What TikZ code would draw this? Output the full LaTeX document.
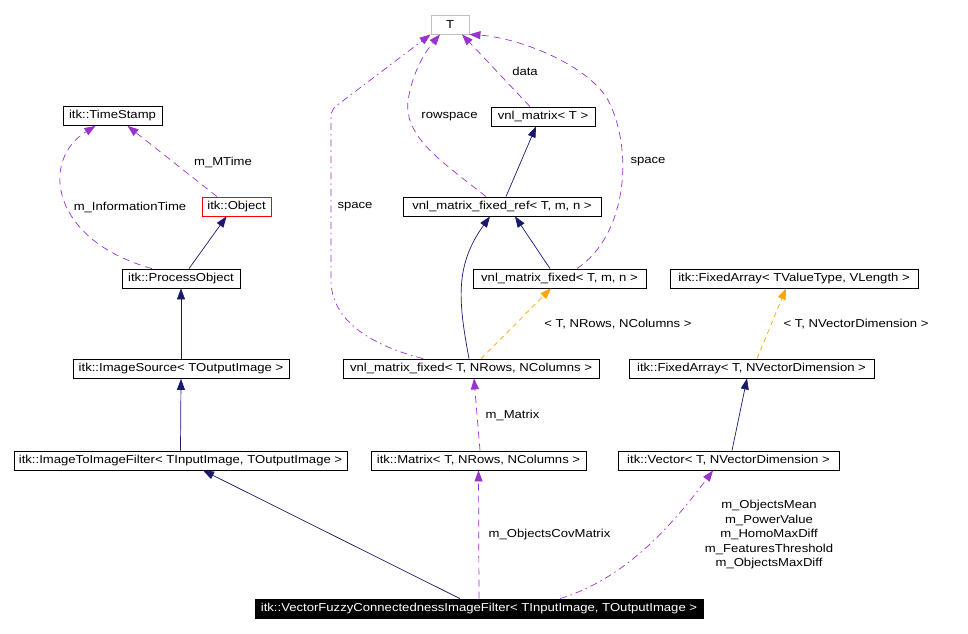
\documentclass[tikz,border=0pt]{standalone}
\usepackage{fontspec}
\setmainfont{Liberation Sans}[FakeStretch=1.14]
\usetikzlibrary{arrows.meta}
\definecolor{navy}{HTML}{191970}
\definecolor{mpurple}{HTML}{9A32CD}
\definecolor{morange}{HTML}{FFA500}
\begin{document}
\begin{tikzpicture}[x=1pt,y=-1pt,
  every node/.style={font=\fontsize{11.5}{14.5}\selectfont, inner sep=0pt},
  cls/.style={draw=black, line width=0.8pt, minimum height=19pt, fill=white},
  tip/.style={-{Triangle[length=11pt,width=8pt]}},
  inh/.style={tip, draw=navy, line width=0.7pt},
  mem/.style={tip, draw=mpurple, line width=0.7pt, dash pattern=on 7pt off 5pt},
  memdd/.style={tip, draw=mpurple, line width=0.7pt, dash pattern=on 7pt off 4pt on 1.5pt off 4pt},
  tmpl/.style={tip, draw=morange, line width=0.7pt, dash pattern=on 5pt off 4pt},
  lbl/.style={align=center}]
\useasboundingbox (0,0) rectangle (968,633);
\fill[white] (0,0) rectangle (968,633);

% nodes
\node[cls, draw=gray!50, minimum width=38pt] (t) at (450,24.5) {T};
\node[cls, minimum width=99pt] (ts) at (112.5,116) {itk::TimeStamp};
\node[cls, draw=red, minimum width=69pt] (obj) at (236.5,206.5) {itk::Object};
\node[cls, minimum width=118pt] (po) at (181,278.5) {itk::ProcessObject};
\node[cls, minimum width=216pt] (is) at (181,369) {itk::ImageSource< TOutputImage >};
\node[cls, minimum width=333pt] (itif) at (180.5,460.5) {itk::ImageToImageFilter< TInputImage, TOutputImage >};
\node[cls, minimum width=104pt] (vm) at (543,116.5) {vnl\_matrix< T >};
\node[cls, minimum width=198pt] (vfref) at (502,206.5) {vnl\_matrix\_fixed\_ref< T, m, n >};
\node[cls, minimum width=173pt] (vfmn) at (559.5,278.5) {vnl\_matrix\_fixed< T, m, n >};
\node[cls, minimum width=256pt] (vfnr) at (471,368.5) {vnl\_matrix\_fixed< T, NRows, NColumns >};
\node[cls, minimum width=215pt] (mat) at (478.5,460.5) {itk::Matrix< T, NRows, NColumns >};
\node[cls, minimum width=248pt] (fa1) at (794,278.5) {itk::FixedArray< TValueType, VLength >};
\node[cls, minimum width=245pt] (fa2) at (751.5,368.5) {itk::FixedArray< T, NVectorDimension >};
\node[cls, minimum width=221pt] (vec) at (728.5,460.5) {itk::Vector< T, NVectorDimension >};
\node[cls, fill=black, text=white, minimum width=448pt] (main) at (479,608.5) {itk::VectorFuzzyConnectednessImageFilter< TInputImage, TOutputImage >};

% left part
\draw[mem] ([xshift=-29pt]po.north) .. controls (50,240) and (40,160) .. ([xshift=-17pt]ts.south);
\draw[mem] ([xshift=-19.5pt]obj.north) -- ([xshift=15pt]ts.south);
\draw[inh] ([xshift=8pt]po.north) -- ([xshift=-10pt]obj.south);
\draw[inh] (is.north) -- (po.south);
\draw[inh] (itif.north) -- (is.south);
\draw[inh] ([xshift=-19pt]main.north) -- ([xshift=22.5pt]itif.south);

% middle
\draw[mem] (main.north) -- (mat.south);
\draw[memdd] ([xshift=81pt]main.north) .. controls (620,580) and (665,535) .. ([xshift=-15.5pt]vec.south);
\draw[mem] ([xshift=1.5pt]mat.north) -- ([xshift=3pt]vfnr.south);
\draw[tmpl] ([xshift=10pt]vfnr.north) -- ([xshift=-8.5pt]vfmn.south);
\draw[inh] ([xshift=-2pt]vfnr.north) .. controls (458,300) and (455,265) .. ([xshift=-12pt]vfref.south);
\draw[memdd] ([xshift=-48pt]vfnr.north) .. controls (370,345) and (331,320) .. (331,280) -- (331,118)
   .. controls (331,110) and (334,107) .. (340,103) -- (t.south west);
\draw[inh] ([xshift=-9.5pt]vfmn.north) -- ([xshift=13pt]vfref.south);
\draw[mem] ([xshift=17.5pt]vfmn.north) .. controls (627,235) and (634,150) .. (608,100)
   .. controls (588,65) and (520,38) .. (t.south east);
\draw[inh] ([xshift=4pt]vfref.north) -- ([xshift=-7pt]vm.south);
\draw[mem] ([xshift=-16pt]vfref.north) .. controls (440,160) and (400,135) .. (409,95)
   .. controls (414,70) and (425,52) .. ([xshift=-10pt]t.south);
\draw[mem] ([xshift=-13pt]vm.north) -- ([xshift=12pt]t.south);

% right
\draw[tmpl] ([xshift=5.5pt]fa2.north) -- ([xshift=-8pt]fa1.south);
\draw[inh] ([xshift=3.5pt]vec.north) -- ([xshift=-4.5pt]fa2.south);

% labels
\node[lbl] (l1) at (223,162) {m\_MTime};
\node[lbl] (l2) at (130,207) {m\_InformationTime};
\node[lbl] (l3) at (449.5,117) {rowspace};
\node[lbl] (l4) at (525,71) {data};
\node[lbl] (l5) at (355,207) {space};
\node[lbl] (l6) at (648,162) {space};
\node[lbl] (l7) at (618,324) {< T, NRows, NColumns >};
\node[lbl] (l8) at (856,324) {< T, NVectorDimension >};
\node[lbl] (l9) at (512.5,415) {m\_Matrix};
\node[lbl] (l10) at (549.5,535) {m\_ObjectsCovMatrix};
\node[lbl] (l11) at (769,535) {m\_ObjectsMean\\m\_PowerValue\\m\_HomoMaxDiff\\m\_FeaturesThreshold\\m\_ObjectsMaxDiff};
\end{tikzpicture}
\end{document}
